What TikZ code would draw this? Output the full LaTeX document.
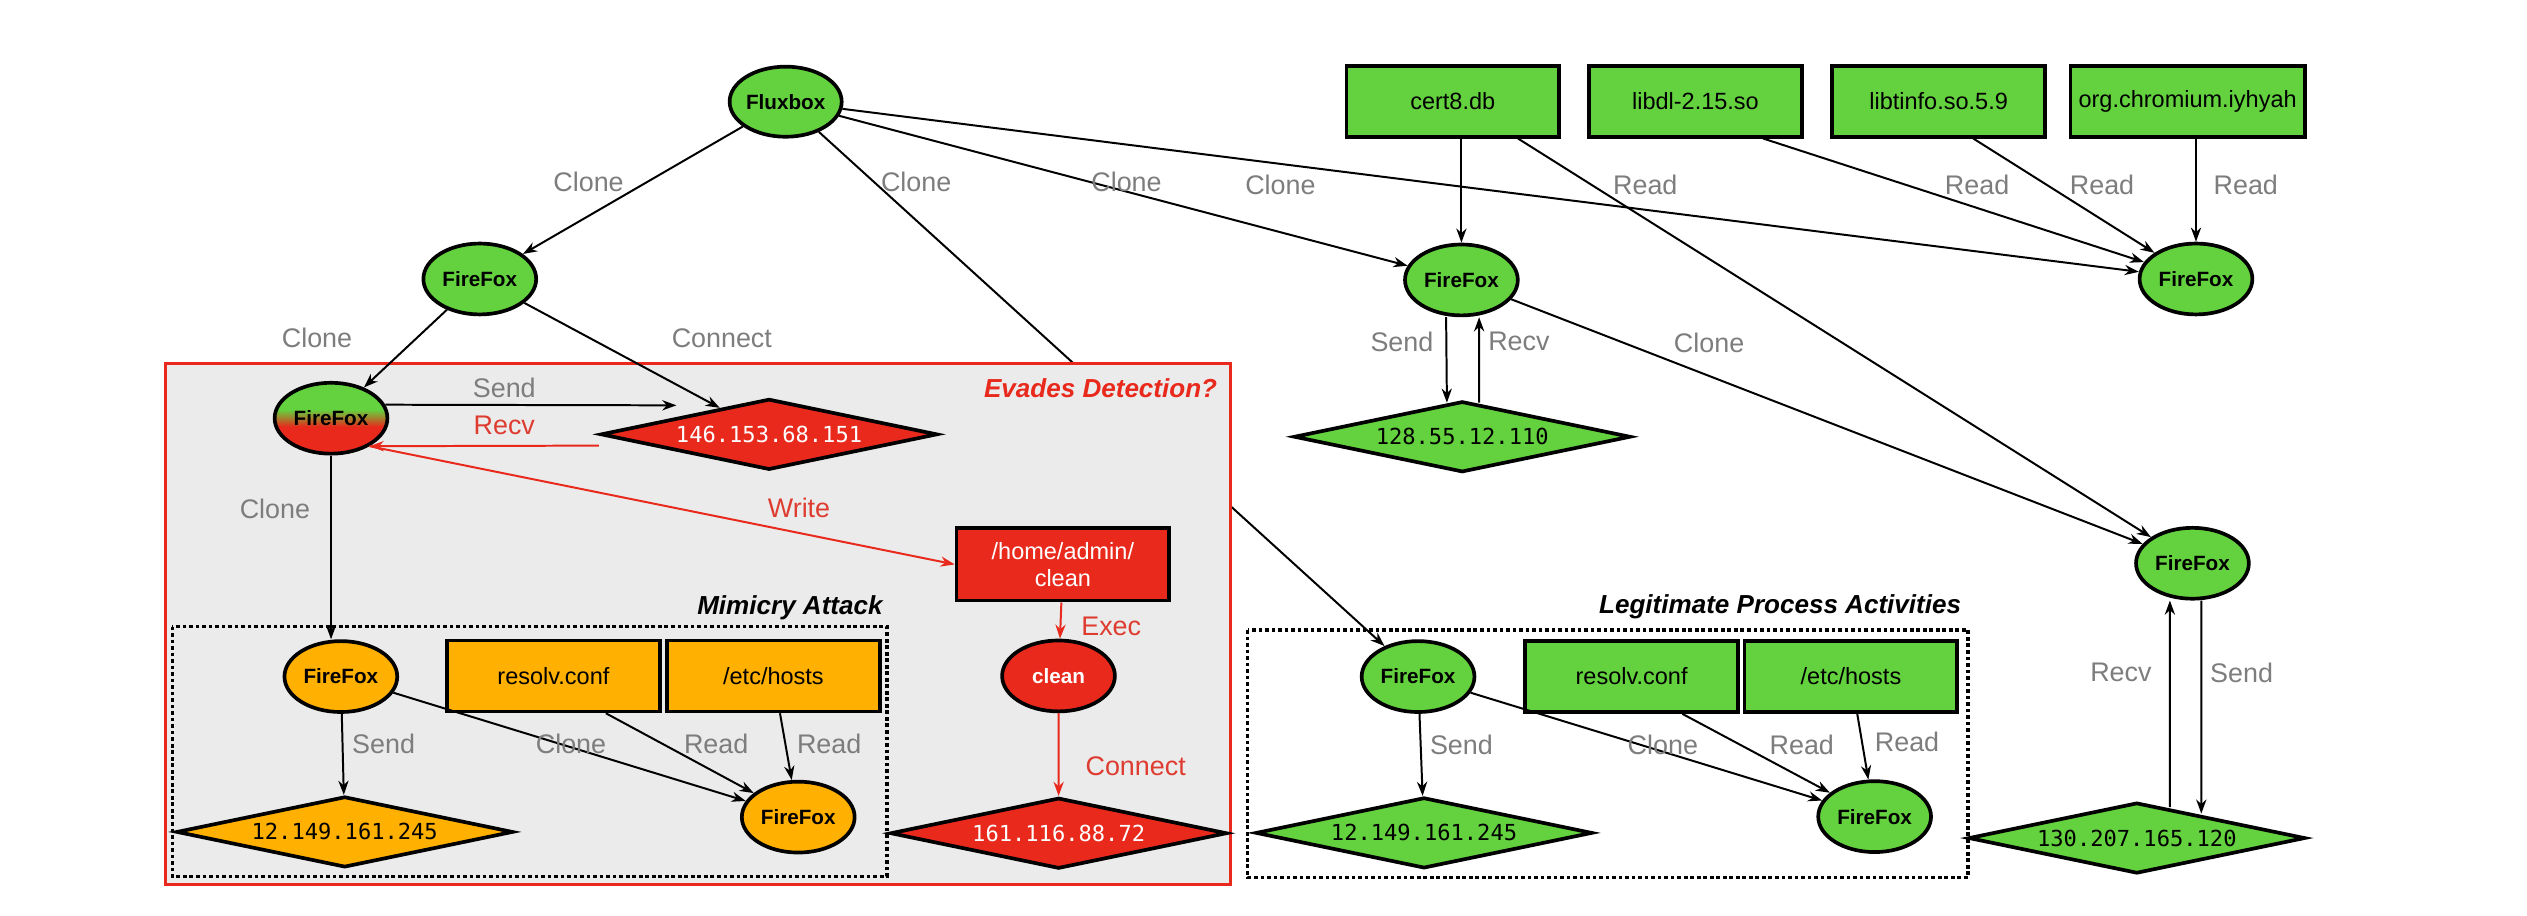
\documentclass[tikz,border=0pt]{standalone}
\usepackage{fontspec}
\setmainfont{Liberation Sans}
\newfontfamily\ipfont{DejaVu Sans Mono}
\usetikzlibrary{shapes.geometric,arrows.meta}
\definecolor{fgreen}{RGB}{99,210,62}
\definecolor{forange}{RGB}{255,176,0}
\definecolor{fred}{RGB}{232,41,28}
\definecolor{boxgray}{RGB}{235,235,235}
\definecolor{lblgray}{RGB}{125,125,125}
\definecolor{lblred}{RGB}{222,60,48}
\pgfdeclareverticalshading{gtor}{100bp}{color(0bp)=(fred); color(44bp)=(fred); color(56bp)=(fgreen); color(100bp)=(fgreen)}
\pgfdeclarelayer{back}
\pgfdeclarelayer{boxes}
\pgfsetlayers{back,boxes,main}
\tikzset{
  proc/.style={ellipse, draw, line width=1.3pt, minimum width=1.4cm, minimum height=0.88cm, inner sep=0pt, font=\bfseries\fontsize{7.3}{8}\selectfont},
  filebox/.style={rectangle, draw, line width=1.3pt, minimum width=2.64cm, minimum height=0.88cm, inner sep=1pt, align=center, font=\fontsize{8.3}{9.5}\selectfont},
  addr/.style={diamond, draw, line width=1.3pt, aspect=5, minimum width=4.18cm, minimum height=0.88cm, inner sep=0pt, font=\ipfont\fontsize{7.8}{8}\selectfont},
  link/.style={->, line width=0.7pt},
  redlink/.style={->, line width=0.7pt, draw=fred},
  lbl/.style={text=lblgray, inner sep=0pt, font=\fontsize{9.5}{11}\selectfont},
  rlbl/.style={lbl, text=lblred},
  boxtitle/.style={anchor=east, inner sep=0pt, font=\bfseries\itshape\fontsize{9.2}{11}\selectfont},
  dotbox/.style={densely dotted, line width=1.3pt}
}
\begin{document}
\begin{tikzpicture}[x=0.02cm, y=-0.02cm, >={Stealth[length=5pt,width=3.6pt]}]
  \useasboundingbox (0,0) rectangle (1568,567.8);

  \node[proc, fill=fgreen, minimum width=1.37cm, minimum height=0.87cm] (flux) at (487.5,63.1) {Fluxbox};
  \node[proc, fill=fgreen] (ffa) at (297.7,173.1) {FireFox};
  \node[proc, shade, shading=gtor] (ffb) at (205.4,259.5) {FireFox};
  \node[addr, fill=fred, text=white] (ipa) at (477.2,269.5) {146.153.68.151};
  \node[filebox, fill=fred, text=white, minimum height=0.9cm] (home) at (659.5,350.2) {/home/admin/\\clean};
  \node[proc, fill=fred, text=white] (clean) at (656.8,419.4) {clean};
  \node[addr, fill=fred, text=white] (ipc) at (656.9,517) {161.116.88.72};
  \node[proc, fill=forange] (ffo) at (211.5,419.8) {FireFox};
  \node[filebox, fill=forange] (resolvo) at (343.4,419.4) {resolv.conf};
  \node[filebox, fill=forange] (hostso) at (479.9,419.4) {/etc/hosts};
  \node[proc, fill=forange] (ffo2) at (495.3,507) {FireFox};
  \node[addr, fill=forange] (ipo) at (213.9,516.2) {12.149.161.245};

  \node[filebox, fill=fgreen] (cert) at (901.4,62.8) {cert8.db};
  \node[filebox, fill=fgreen] (libdl) at (1052,62.8) {libdl-2.15.so};
  \node[filebox, fill=fgreen] (libtinfo) at (1202.9,62.8) {libtinfo.so.5.9};
  \node[filebox, fill=fgreen, minimum width=2.91cm] (org) at (1357.4,62.8) {org.chromium.iyhyah};
  \node[proc, fill=fgreen] (ffc) at (906.8,173.7) {FireFox};
  \node[proc, fill=fgreen] (ffd) at (1362.6,173.1) {FireFox};
  \node[addr, fill=fgreen] (ipb) at (907.3,271) {128.55.12.110};
  \node[proc, fill=fgreen] (ffe) at (1360.4,349.5) {FireFox};
  \node[addr, fill=fgreen] (ipd) at (1325.9,520) {130.207.165.120};
  \node[proc, fill=fgreen] (fff) at (879.9,419.8) {FireFox};
  \node[filebox, fill=fgreen] (resolvg) at (1012.4,419.8) {resolv.conf};
  \node[filebox, fill=fgreen] (hostsg) at (1148.5,419.8) {/etc/hosts};
  \node[proc, fill=fgreen] (ffg) at (1163.2,506.7) {FireFox};
  \node[addr, fill=fgreen] (ipg) at (883.6,516.8) {12.149.161.245};

  \begin{pgfonlayer}{boxes}
    \draw[draw=fred, fill=boxgray, line width=1.2pt] (102.7,225.4) rectangle (763.4,549);
    \draw[dotbox] (107,388.8) rectangle (550.2,543.9);
    \draw[dotbox] (774.1,390.9) rectangle (1221.1,544.5);
  \end{pgfonlayer}
  \node[boxtitle, text=fred] (tevade) at (755.6,240.9) {Evades Detection?};
  \node[boxtitle] (tmimic) at (548,377.4) {Mimicry Attack};
  \node[boxtitle] (tlegit) at (1217.2,376.4) {Legitimate Process Activities};

  \begin{pgfonlayer}{back}
    \draw[link] (flux) -- (fff);
  \end{pgfonlayer}
  \draw[link] (flux) -- (ffa);
  \draw[link] (flux) -- (ffc);
  \draw[link] (flux) -- (ffd);
  \draw[link] (ffa) -- (ffb);
  \draw[link] (ffa) -- (ipa);
  \draw[link] (ffb.14) -- ([xshift=-1.15cm,yshift=0.36cm]ipa.center);
  \draw[redlink] ([yshift=-0.14cm]ipa.west) -- (ffb.-36);
  \draw[redlink] (ffb.-36) -- (home.west);
  \draw[link] (ffb) -- (ffb |- ffo.north);
  \draw[redlink] (home) -- (clean);
  \draw[redlink] (clean) -- (ipc);
  \draw[link] (ffo) -- (ipo);
  \draw[link] (ffo) -- (ffo2);
  \draw[link] ([xshift=0.65cm]resolvo.south) -- (ffo2);
  \draw[link] (hostso) -- (ffo2);

  \draw[link] (cert.south -| ffc) -- (ffc);
  \draw[link] ([xshift=0.81cm]cert.south) -- (ffe);
  \draw[link] ([xshift=0.84cm]libdl.south) -- (ffd);
  \draw[link] ([xshift=0.43cm]libtinfo.south) -- (ffd);
  \draw[link] (org.south -| ffd) -- (ffd);
  \draw[link] ([xshift=-0.19cm]ffc.south) -- ([xshift=-0.19cm,yshift=-0.04cm]ipb.north);
  \draw[link] ([xshift=0.21cm,yshift=-0.04cm]ipb.north) -- ([xshift=0.22cm]ffc.south);
  \draw[link] (ffc) -- (ffe);
  \draw[link] ([xshift=0.41cm,yshift=-0.08cm]ipd.north) -- ([xshift=-0.28cm]ffe.south);
  \draw[link] ([xshift=0.11cm]ffe.south) -- ([xshift=0.8cm,yshift=-0.16cm]ipd.north);
  \draw[link] (fff) -- (ipg);
  \draw[link] (fff) -- (ffg);
  \draw[link] ([xshift=0.63cm]resolvg.south) -- (ffg);
  \draw[link] (hostsg) -- (ffg);

  \node[lbl] (l1) at (365.2,112.7) {Clone};
  \node[lbl] (l2) at (568.5,112.7) {Clone};
  \node[lbl] (l3) at (699,112.7) {Clone};
  \node[lbl] (l4) at (794.5,114.8) {Clone};
  \node[lbl] (l5) at (1020.9,114.8) {Read};
  \node[lbl] (l6) at (1226.8,114.8) {Read};
  \node[lbl] (l7) at (1304.3,114.8) {Read};
  \node[lbl] (l8) at (1393.5,114.8) {Read};
  \node[lbl] (l9) at (196.7,209.9) {Clone};
  \node[lbl] (l10) at (447.9,209.9) {Connect};
  \node[lbl] (l11) at (312.9,240.9) {Send};
  \node[rlbl] (l12) at (312.9,263.7) {Recv};
  \node[rlbl] (l13) at (495.8,315.4) {Write};
  \node[lbl] (l14) at (170.6,316) {Clone};
  \node[rlbl] (l15) at (689.5,388.8) {Exec};
  \node[rlbl] (l16) at (704.7,475.7) {Connect};
  \node[lbl] (l17) at (238,461.8) {Send};
  \node[lbl] (l18) at (354.3,461.8) {Clone};
  \node[lbl] (l19) at (444.4,461.8) {Read};
  \node[lbl] (l20) at (514.5,461.8) {Read};
  \node[lbl] (l21) at (869.9,212) {Send};
  \node[lbl] (l22) at (942.5,212) {Recv};
  \node[lbl] (l23) at (1060.5,213) {Clone};
  \node[lbl] (l24) at (1316,417.3) {Recv};
  \node[lbl] (l25) at (1390.9,417.3) {Send};
  \node[lbl] (l26) at (906.8,462.2) {Send};
  \node[lbl] (l27) at (1031.8,462.2) {Clone};
  \node[lbl] (l28) at (1118,462.2) {Read};
  \node[lbl] (l29) at (1183.3,460.2) {Read};
\end{tikzpicture}
\end{document}
